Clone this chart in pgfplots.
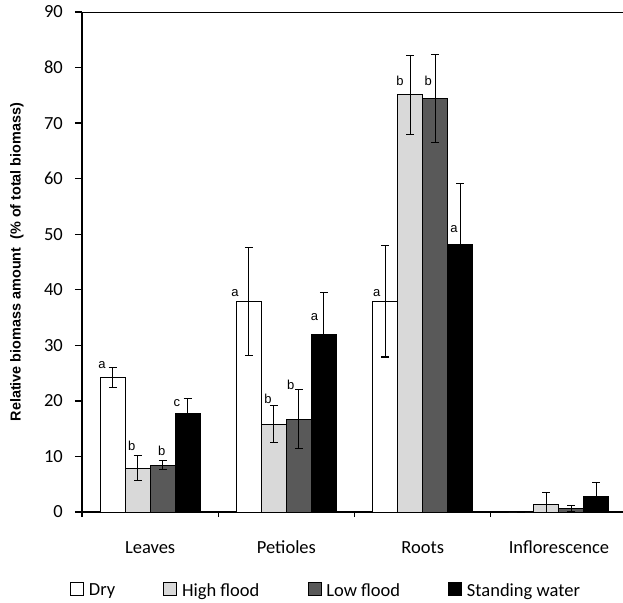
\documentclass[border=0pt]{standalone}
\usepackage{pgfplots}
\pgfplotsset{compat=1.18}
\usepackage{fontspec}
\setmainfont{Carlito}
\newfontfamily\arial{Liberation Sans}
\definecolor{hf}{RGB}{217,217,217}
\definecolor{lf}{RGB}{89,89,89}
\pgfplotsset{sq/.style={legend image code/.code={\draw[fill=#1,draw=black,line width=0.8pt] (0pt,-5pt) rectangle (13pt,8pt);}}}
\begin{document}
\begin{tikzpicture}
\useasboundingbox (-82pt,-90pt) rectangle (541pt,512pt);
\begin{axis}[
  at={(0,0)}, anchor=south west,
  scale only axis, width=541pt, height=500pt,
  xmin=-0.5, xmax=3.47, ymin=0, ymax=90,
  axis x line*=bottom, axis y line*=left,
  axis line style={line width=1.6pt},
  ybar=0pt, bar width=25pt,
  xtick={0,1,2,3}, xticklabels={Leaves,Petioles,Roots,Inflorescence},
  minor xtick={-0.5,0.5,1.5,2.5},
  ytick={0,10,...,90},
  tick align=outside,
  major tick length=7pt, minor tick length=5pt,
  tick style={black, line width=1.3pt},
  major x tick style={draw=none},
  /pgf/number format/assume math mode=true,
  tick label style={font=\fontsize{18.5}{20}\selectfont},
  yticklabel style={anchor=east, inner sep=0pt, xshift=-12pt},
  xticklabel style={anchor=base, inner sep=0pt, yshift=-34pt},
  ylabel={Relative biomass amount\ \ (\% of total biomass)},
  ylabel style={at={(axis description cs:-0.1201,0.5)}, anchor=center, font=\arial\bfseries\fontsize{14.4}{16}\selectfont},
  legend style={at={(axis description cs:0,0)}, anchor=west, xshift=-12pt, yshift=-78pt,
    draw=none, fill=none, inner sep=0pt, legend columns=4,
    nodes={inner sep=0pt, font=\fontsize{18.5}{20}\selectfont},
    /tikz/every odd column/.append style={column sep=5pt},
    /tikz/every even column/.append style={column sep=48pt}},
  error bars/error bar style={line width=1.1pt, black},
  error bars/error mark options={rotate=90, mark size=4pt, line width=1.1pt, black},
]
\addplot[fill=white, draw=black, line width=1pt, sq=white,
  error bars/.cd, y dir=both, y explicit]
  coordinates {(0,24.2) +- (0,1.8) (1,37.9) +- (0,9.7) (2,37.9) +- (0,10.0) (3,0) +- (0,0)};
\addplot[fill=hf, draw=black, line width=1pt, sq=hf,
  error bars/.cd, y dir=both, y explicit]
  coordinates {(0,7.9) +- (0,2.3) (1,15.8) +- (0,3.3) (2,75.1) +- (0,7.1) (3,1.4) +- (0,2.1)};
\addplot[fill=lf, draw=black, line width=1pt, sq=lf,
  error bars/.cd, y dir=both, y explicit]
  coordinates {(0,8.4) +- (0,0.8) (1,16.7) +- (0,5.3) (2,74.4) +- (0,7.95) (3,0.6) +- (0,0.5)};
\addplot[fill=black, draw=black, line width=1pt, sq=black,
  error bars/.cd, y dir=both, y explicit]
  coordinates {(0,17.7) +- (0,2.8) (1,32.0) +- (0,7.5) (2,48.2) +- (0,11.0) (3,2.8) +- (0,2.5)};
\legend{Dry,High flood,Low flood,Standing water}
\draw[line width=1.2pt] (rel axis cs:0,1) -- (rel axis cs:1,1);
\begin{scope}[every node/.style={font=\arial\fontsize{13}{15}\selectfont, inner sep=0pt}]
\node at (axis cs:-0.353,26.5) {a};
\node at (axis cs:-0.135,11.9) {b};
\node at (axis cs:0.085,11.0) {b};
\node at (axis cs:0.197,19.6) {c};
\node at (axis cs:0.623,39.4) {a};
\node at (axis cs:0.865,20.3) {b};
\node at (axis cs:1.032,22.9) {b};
\node at (axis cs:1.206,35.1) {a};
\node at (axis cs:1.663,39.4) {a};
\node at (axis cs:1.834,77.6) {b};
\node at (axis cs:2.041,77.6) {b};
\node at (axis cs:2.230,50.9) {a};
\end{scope}
\end{axis}
\end{tikzpicture}
\end{document}
